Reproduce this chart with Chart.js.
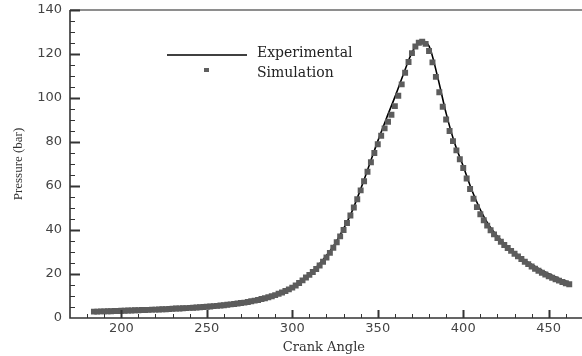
<!DOCTYPE html>
<html>
<head>
<meta charset="utf-8">
<script src="https://cdn.jsdelivr.net/npm/chart.js@4.4.1/dist/chart.umd.min.js"></script>
<style>
html,body{margin:0;padding:0;background:#fff;}
canvas{display:block;}
</style>
</head>
<body>
<canvas id="myChart" width="582" height="356"></canvas>
<script>
// crank angle (deg) and measured pressure (bar)
var expAngle = [185,190,195,200,205,210,215,220,225,230,235,240,245,250,255,260,265,270,275,280,
  285,290,295,300,305,310,315,320,325,330,335,340,345,350,355,360,365,370,375,380,
  385,390,395,400,405,410,415,420,425,430,435,440,445,450,455,460,462];
var expPressure = [3.0,3.1,3.2,3.3,3.4,3.5,3.7,3.8,4.0,4.2,4.4,4.6,4.9,5.1,5.5,5.9,6.3,6.9,7.6,8.4,
  9.3,10.6,12.2,14.2,16.8,20.0,23.8,28.4,33.8,40.6,48.6,58.6,69.4,80.4,90.6,100.4,110.8,120.6,126.0,123.6,
  109.6,93.0,79.4,69.0,58.2,49.2,42.2,37.2,33.2,29.8,26.9,24.3,22.1,20.1,18.3,16.7,16.1];

// simulated pressure
var simAngle = [184,186,188,190,192,194,196,198,200,202,204,206,208,210,212,214,216,218,220,222,
  224,226,228,230,232,234,236,238,240,242,244,246,248,250,252,254,256,258,260,262,
  264,266,268,270,272,274,276,278,280,282,284,286,288,290,292,294,296,298,300,302,
  304,306,308,310,312,314,316,318,320,322,324,326,328,330,332,334,336,338,340,342,
  344,346,348,350,352,354,356,358,360,362,364,366,368,370,372,374,376,378,380,382,
  384,386,388,390,392,394,396,398,400,402,404,406,408,410,412,414,416,418,420,422,
  424,426,428,430,432,434,436,438,440,442,444,446,448,450,452,454,456,458,460,462];
var simPressure = [2.9,2.9,3.0,3.0,3.1,3.1,3.2,3.2,3.3,3.3,3.4,3.4,3.5,3.5,3.6,3.6,3.7,3.8,3.8,3.9,
  4.0,4.0,4.1,4.2,4.3,4.3,4.4,4.5,4.6,4.7,4.8,4.9,5.0,5.1,5.2,5.4,5.5,5.7,5.8,6.0,
  6.2,6.4,6.6,6.8,7.0,7.3,7.6,7.9,8.2,8.6,9.0,9.4,9.9,10.4,11.0,11.6,12.3,13.0,13.8,14.8,
  15.9,17.1,18.4,19.6,20.9,22.3,23.9,25.6,27.5,29.6,31.9,34.4,37.1,40.0,43.2,46.6,50.2,54.0,58.0,62.2,
  66.5,70.8,75.0,79.0,82.8,86.2,89.2,92.4,96.3,101.0,106.2,111.5,116.4,120.4,123.4,125.1,125.6,124.6,121.4,116.2,
  109.6,102.6,96.0,90.2,85.0,80.4,76.2,72.2,68.2,63.4,58.6,54.2,50.4,47.2,44.4,42.0,39.9,38.0,36.3,34.7,
  33.2,31.8,30.5,29.2,28.0,26.8,25.6,24.5,23.4,22.4,21.5,20.6,19.8,19.0,18.3,17.6,17.0,16.4,15.8,15.3];

var xTicks = [200,250,300,350,400,450];
var seriesNames = ['Experimental','Simulation'];

function toPoints(xs, ys){
  return xs.map(function(x,i){ return {x:x, y:ys[i]}; });
}

const axesAndLegend = {
  id: 'axes_and_legend',
  afterDraw: (chart) => {
    const ctx = chart.ctx;
    const a = chart.chartArea;
    const xs = chart.scales.x, ys = chart.scales.y;
    ctx.save();
    // top frame line
    ctx.strokeStyle = '#8e8e8e';
    ctx.lineWidth = 2;
    ctx.beginPath(); ctx.moveTo(a.left, a.top); ctx.lineTo(chart.width, a.top); ctx.stroke();
    // axes
    ctx.strokeStyle = '#333';
    ctx.lineWidth = 1.6;
    ctx.beginPath();
    ctx.moveTo(a.left, a.top); ctx.lineTo(a.left, a.bottom); ctx.lineTo(chart.width, a.bottom);
    ctx.stroke();
    // x ticks, inward
    for (let v = 180; v <= 460; v += 10) {
      const px = Math.round(xs.getPixelForValue(v)) + 0.5;
      const major = v % 50 === 0;
      ctx.lineWidth = major ? 2 : 1;
      ctx.beginPath(); ctx.moveTo(px, a.bottom); ctx.lineTo(px, a.bottom - (major ? 8 : 4)); ctx.stroke();
    }
    // y ticks, inward
    for (let v = 5; v <= 140; v += 5) {
      const py = Math.round(ys.getPixelForValue(v)) + 0.5;
      const major = v % 20 === 0;
      ctx.lineWidth = major ? 2 : 1;
      ctx.beginPath(); ctx.moveTo(a.left, py); ctx.lineTo(a.left + (major ? 10 : 5), py); ctx.stroke();
    }
    // legend
    const lx = a.left + 97, ly = a.top + 45;
    ctx.strokeStyle = '#000';
    ctx.lineWidth = 1.5;
    ctx.beginPath(); ctx.moveTo(lx, ly); ctx.lineTo(lx + 80, ly); ctx.stroke();
    ctx.fillStyle = '#5f5f5f';
    ctx.fillRect(lx + 37, ly + 13, 5, 4);
    ctx.fillStyle = '#222';
    ctx.font = '14px "DejaVu Serif"';
    ctx.textBaseline = 'middle';
    ctx.textAlign = 'left';
    ctx.fillText(seriesNames[0], lx + 90, ly - 2);
    ctx.fillText(seriesNames[1], lx + 90, ly + 18);
    ctx.restore();
  }
};

const data = {
  datasets: [{
    label: seriesNames[1],
    type: 'scatter',
    data: toPoints(simAngle, simPressure),
    pointStyle: 'rect',
    pointRadius: 4.2,
    pointBackgroundColor: '#5c5c5c',
    pointBorderWidth: 0,
    showLine: false
  },{
    label: seriesNames[0],
    type: 'line',
    data: toPoints(expAngle, expPressure),
    borderColor: '#000',
    borderWidth: 1.6,
    pointRadius: 0,
    cubicInterpolationMode: 'monotone',
    fill: false
  }]
};

const config = {
  type: 'scatter',
  data: data,
  options: {
    responsive: false,
    animation: false,
    layout: { padding: { top: 10, right: 0, left: 0, bottom: 0 } },
    plugins: { legend: { display: false }, tooltip: { enabled: false } },
    scales: {
      x: {
        type: 'linear',
        min: 170, max: 467,
        afterBuildTicks: (s) => { s.ticks = xTicks.map(v => ({ value: v })); },
        afterFit: (s) => { s.height = 38; s.paddingLeft = 0; s.paddingRight = 0; },
        grid: { display: false, drawTicks: false },
        border: { display: false },
        ticks: { color: '#444', font: { family: 'DejaVu Sans', size: 13 }, padding: 3, maxRotation: 0 },
        title: { display: true, text: 'Crank Angle', color: '#333',
          font: { family: 'DejaVu Serif', size: 13 }, padding: { top: 0, bottom: 1 } }
      },
      y: {
        min: 0, max: 140,
        ticks: { stepSize: 20, color: '#444', font: { family: 'DejaVu Sans', size: 13 }, padding: 8 },
        afterFit: (s) => { s.width = 70; s.paddingTop = 0; s.paddingBottom = 0; },
        grid: { display: false, drawTicks: false },
        border: { display: false },
        title: { display: true, text: 'Pressure (bar)', color: '#333',
          font: { family: 'Liberation Serif', size: 13 }, padding: { top: 11, bottom: 0 } }
      }
    }
  },
  plugins: [axesAndLegend]
};

const myChart = new Chart(document.getElementById('myChart'), config);
</script>
</body>
</html>
